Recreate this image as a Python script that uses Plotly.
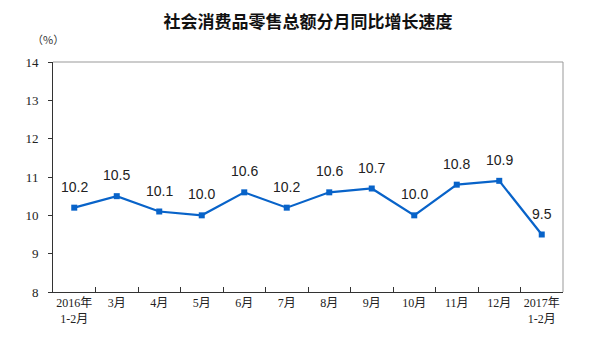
import plotly.graph_objects as go

categories = ["2016年<br>1-2月", "3月", "4月", "5月", "6月", "7月", "8月", "9月", "10月", "11月", "12月", "2017年<br>1-2月"]
values = [10.2, 10.5, 10.1, 10.0, 10.6, 10.2, 10.6, 10.7, 10.0, 10.8, 10.9, 9.5]
labels = ["10.2", "10.5", "10.1", "10.0", "10.6", "10.2", "10.6", "10.7", "10.0", "10.8", "10.9", "9.5"]
y_ticks = [8, 9, 10, 11, 12, 13, 14]

fig = go.Figure()
fig.add_trace(go.Scatter(
    x=categories, y=values, mode="lines+markers",
    line=dict(color="#0863c9", width=2.2),
    marker=dict(symbol="square", size=6, color="#0863c9"),
    cliponaxis=False,
))
for c, v, t in zip(categories, values, labels):
    fig.add_annotation(x=c, y=v, text=t, showarrow=False, yshift=21,
                       font=dict(family="Arial, Liberation Sans", size=14, color="#222"))

fig.update_layout(
    width=592, height=355,
    margin=dict(l=45, r=37, t=54, b=71),
    paper_bgcolor="white", plot_bgcolor="white",
    showlegend=False,
    title=dict(text="社会消费品零售总额分月同比增长速度", x=0.5, xanchor="center", xref="paper",
               y=1 - 14 / 355, yanchor="middle",
               font=dict(family="Noto Sans CJK SC", size=17, color="#111", weight="bold")),
    font=dict(family="Liberation Serif, Noto Sans CJK SC", size=11, color="#222"),
)
fig.update_xaxes(
    type="category", tickson="boundaries", ticks="inside", ticklen=5, tickcolor="#333",
    showline=True, linecolor="#333", linewidth=1, showgrid=False, tickangle=0,
    tickfont=dict(family="Liberation Serif, Noto Sans CJK SC", size=12, color="#222"),
    range=[-0.5, 11.5],
)
fig.update_yaxes(
    range=[8, 14], tickvals=y_ticks, ticks="outside", ticklen=4, tickcolor="#333",
    showline=True, linecolor="#333", linewidth=1, showgrid=False, zeroline=False,
    tickfont=dict(family="Liberation Serif", size=13, color="#222"), ticklabelstandoff=7,
)
# gray top/right frame
fig.add_shape(type="line", xref="paper", yref="paper", x0=0, x1=1, y0=1, y1=1, line=dict(color="#999", width=1))
fig.add_shape(type="line", xref="paper", yref="paper", x0=1, x1=1, y0=0, y1=1, line=dict(color="#999", width=1))
fig.add_annotation(text="（%）", xref="paper", yref="paper", x=-0.01, y=1.1, xanchor="center", yanchor="middle",
                   showarrow=False, font=dict(family="Noto Sans CJK SC", size=11, color="#333"))

fig.write_html("out.html")
